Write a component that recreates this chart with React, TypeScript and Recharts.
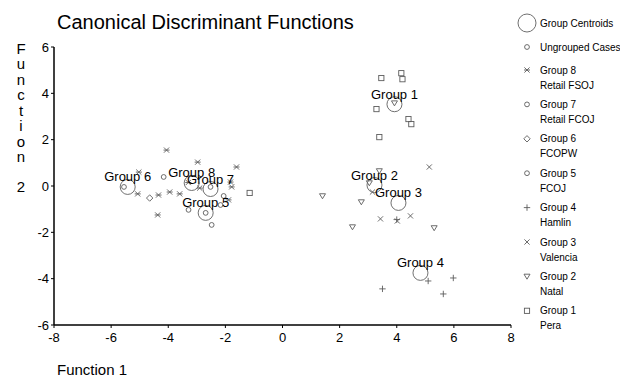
import { ScatterChart, Scatter, XAxis, YAxis } from "recharts"

const xTicks = [-8, -6, -4, -2, 0, 2, 4, 6, 8]
const yTicks = [-6, -4, -2, 0, 2, 4, 6]

const centroidNames = ["Group 1", "Group 2", "Group 3", "Group 4", "Group 5", "Group 6", "Group 7", "Group 8"]
const centroidX = [3.92, 3.22, 4.06, 4.83, -2.69, -5.42, -2.52, -3.18]
const centroidY = [3.53, 0.04, -0.73, -3.75, -1.16, -0.04, -0.13, 0.13]

const pera = [[3.46, 4.66], [4.16, 4.87], [4.2, 4.61], [3.29, 3.32], [4.41, 2.89], [4.51, 2.67], [3.39, 2.11], [-1.15, -0.3]]
const natal = [[3.92, 3.58], [3.39, 0.65], [3.04, 0.13], [1.4, -0.43], [2.76, -0.69], [2.45, -1.77], [5.31, -1.81]]
const valencia = [[5.14, 0.82], [3.15, -0.26], [3.43, -1.42], [4.02, -1.51], [4.48, -1.29]]
const hamlin = [[5.1, -4.1], [5.98, -3.97], [3.5, -4.44], [5.63, -4.66], [4.0, -1.45]]
const fcoj = [[-2.69, -1.16], [-3.29, -1.03], [-2.48, -1.68], [-2.17, -0.82]]
const fcopw = [[-4.65, -0.52]]
const retailFcoj = [[-2.52, -0.04], [-4.16, 0.39], [-2.06, -0.43]]
const retailFsoj = [
  [-4.06, 1.55], [-2.97, 1.03], [-1.61, 0.82], [-5.03, 0.6], [-5.07, -0.34], [-4.34, -0.39],
  [-3.95, -0.26], [-3.6, -0.34], [-4.37, -1.25], [-2.9, -0.09], [-1.82, 0.17], [-1.78, -0.04],
  [-1.89, -0.6], [-3.3, 0.15],
]
const ungrouped = [[-5.55, -0.04]]

const legendLabels = [
  ["Group 8", "Retail FSOJ"],
  ["Group 7", "Retail FCOJ"],
  ["Group 6", "FCOPW"],
  ["Group 5", "FCOJ"],
  ["Group 4", "Hamlin"],
  ["Group 3", "Valencia"],
  ["Group 2", "Natal"],
  ["Group 1", "Pera"],
]
const legendKinds = ["star", "circle", "diamond", "circle", "plus", "x", "triangle", "square"]

const MARK = "#5c5c5c"
const FONT = "'Liberation Sans', Arial, sans-serif"

const toPoints = (pts: number[][]) => pts.map(([x, y]) => ({ x, y }))
const centroids = centroidNames.map((name, i) => ({ name, x: centroidX[i], y: centroidY[i] }))

function Marker({ cx, cy, kind }: { cx: number; cy: number; kind: string }) {
  const s = 2.6
  const common = { stroke: MARK, strokeWidth: 0.9, fill: "none" }
  switch (kind) {
    case "square":
      return <rect x={cx - s} y={cy - s} width={s * 2} height={s * 2} {...common} />
    case "triangle":
      return <path d={`M${cx - 3},${cy - 2.2} L${cx + 3},${cy - 2.2} L${cx},${cy + 2.8} Z`} {...common} />
    case "x":
      return <path d={`M${cx - s},${cy - s} L${cx + s},${cy + s} M${cx - s},${cy + s} L${cx + s},${cy - s}`} {...common} />
    case "plus":
      return <path d={`M${cx - 3.2},${cy} L${cx + 3.2},${cy} M${cx},${cy - 3.2} L${cx},${cy + 3.2}`} {...common} />
    case "star":
      return (
        <path
          d={`M${cx - s},${cy - s} L${cx + s},${cy + s} M${cx - s},${cy + s} L${cx + s},${cy - s} M${cx - 3},${cy} L${cx + 3},${cy}`}
          {...common}
        />
      )
    case "diamond":
      return <path d={`M${cx},${cy - 3.2} L${cx + 3.2},${cy} L${cx},${cy + 3.2} L${cx - 3.2},${cy} Z`} {...common} />
    default:
      return <circle cx={cx} cy={cy} r={2.4} {...common} />
  }
}

const shapeOf = (kind: string) => (p: any) => <Marker cx={p.cx} cy={p.cy} kind={kind} />

function Centroid(p: any) {
  return (
    <g>
      <circle cx={p.cx} cy={p.cy} r={7.5} stroke="#606060" strokeWidth={0.9} fill="none" />
      <text x={p.cx} y={p.cy - 10} textAnchor="middle" dominantBaseline="central" fontSize={13} fontFamily={FONT} fill="#000">
        {p.payload.name}
      </text>
    </g>
  )
}

const tickStyle = { fill: "#000", fontSize: 13, fontFamily: FONT }

export default function App() {
  const yLetters = "Function".split("")
  return (
    <div style={{ position: "absolute", left: 0, top: 0, width: 620, height: 378, background: "#fff", fontFamily: FONT }}>
      <ScatterChart width={620} height={378} margin={{ top: 47, right: 109, left: 20, bottom: 23 }}>
        <XAxis
          type="number"
          dataKey="x"
          domain={[-8, 8]}
          ticks={xTicks}
          height={30}
          tickSize={3}
          tickMargin={5}
          tick={tickStyle}
          axisLine={{ stroke: "#000", strokeWidth: 1.5 }}
          tickLine={{ stroke: "#000" }}
        />
        <YAxis
          type="number"
          dataKey="y"
          domain={[-6, 6]}
          ticks={yTicks}
          width={34}
          tickSize={3}
          tickMargin={2}
          tick={tickStyle}
          axisLine={{ stroke: "#000", strokeWidth: 1.5 }}
          tickLine={{ stroke: "#000" }}
        />
        <Scatter data={toPoints(pera)} shape={shapeOf("square")} isAnimationActive={false} />
        <Scatter data={toPoints(natal)} shape={shapeOf("triangle")} isAnimationActive={false} />
        <Scatter data={toPoints(valencia)} shape={shapeOf("x")} isAnimationActive={false} />
        <Scatter data={toPoints(hamlin)} shape={shapeOf("plus")} isAnimationActive={false} />
        <Scatter data={toPoints(fcoj)} shape={shapeOf("circle")} isAnimationActive={false} />
        <Scatter data={toPoints(fcopw)} shape={shapeOf("diamond")} isAnimationActive={false} />
        <Scatter data={toPoints(retailFcoj)} shape={shapeOf("circle")} isAnimationActive={false} />
        <Scatter data={toPoints(retailFsoj)} shape={shapeOf("star")} isAnimationActive={false} />
        <Scatter data={toPoints(ungrouped)} shape={shapeOf("circle")} isAnimationActive={false} />
        <Scatter data={centroids} shape={Centroid} isAnimationActive={false} />
      </ScatterChart>

      <svg width={620} height={378} style={{ position: "absolute", left: 0, top: 0, pointerEvents: "none" }}>
        <text x={57} y={29} fontSize={20} fontFamily={FONT} fill="#000">
          Canonical Discriminant Functions
        </text>
        {yLetters.map((ch, i) => (
          <text key={i} x={21} y={48 + i * 15.5} textAnchor="middle" dominantBaseline="central" fontSize={15} fontFamily={FONT}>
            {ch}
          </text>
        ))}
        <text x={21} y={186} textAnchor="middle" dominantBaseline="central" fontSize={15} fontFamily={FONT}>
          2
        </text>
        <text x={57} y={375} fontSize={15} fontFamily={FONT}>
          Function 1
        </text>

        <circle cx={527} cy={23} r={9} stroke="#606060" strokeWidth={0.9} fill="none" />
        <text x={540} y={23} dominantBaseline="central" fontSize={10} fontFamily={FONT}>
          Group Centroids
        </text>
        <Marker cx={527} cy={47} kind="circle" />
        <text x={540} y={47} dominantBaseline="central" fontSize={10} fontFamily={FONT}>
          Ungrouped Cases
        </text>
        {legendLabels.map(([a, b], i) => {
          const y = 70 + i * 34.4
          return (
            <g key={a}>
              <Marker cx={527} cy={y} kind={legendKinds[i]} />
              <text x={540} y={y} dominantBaseline="central" fontSize={10} fontFamily={FONT}>
                {a}
              </text>
              <text x={540} y={y + 15} dominantBaseline="central" fontSize={10} fontFamily={FONT}>
                {b}
              </text>
            </g>
          )
        })}
      </svg>
    </div>
  )
}
